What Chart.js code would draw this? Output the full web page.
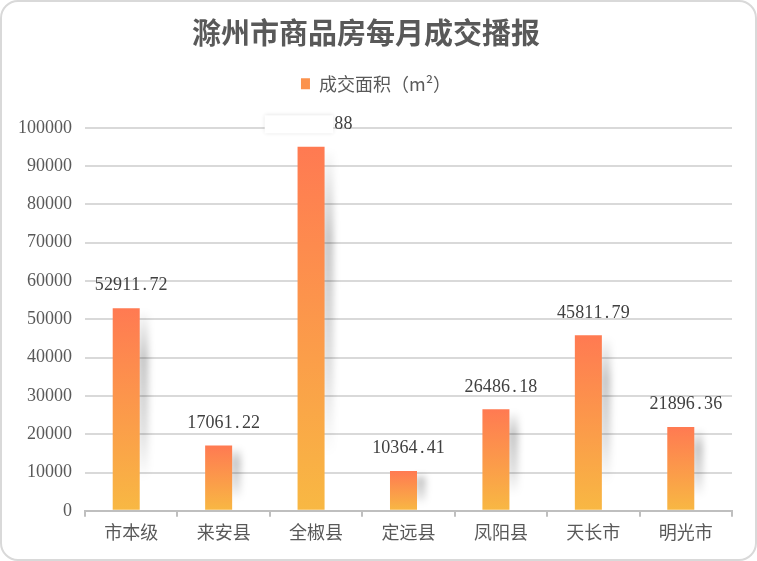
<!DOCTYPE html>
<html><head><meta charset="utf-8">
<script src="https://cdn.jsdelivr.net/npm/chart.js@4"></script>
<style>
html,body{margin:0;padding:0;background:#fff;}
#wrap{position:relative;width:757px;height:561px;}
#frame{position:absolute;left:0;top:0;width:757px;height:561px;box-sizing:border-box;border:2px solid #d9d9d9;border-radius:18px;pointer-events:none;}
canvas{position:absolute;left:0;top:0;}
</style></head><body>
<div id="wrap"><canvas id="c" width="757" height="561"></canvas><div id="frame"></div></div>
<script>
const chartTitle = '滁州市商品房每月成交播报';
const seriesName = '成交面积（m²）';
const categories = ['市本级', '来安县', '全椒县', '定远县', '凤阳县', '天长市', '明光市'];
const areaValues = [52911.72, 17061.22, 95038.88, 10364.41, 26486.18, 45811.79, 21896.36];
const yMin = 0, yMax = 100000, yStep = 10000;
const maskedLabelIndex = 2;

const colorTop = '#FF7A52', colorBottom = '#F8B843', textGray = '#595959';

function barGradient(c) {
  const chart = c.chart, area = chart.chartArea;
  if (!area || c.type !== 'data') return '#FB9A4B';
  const ys = chart.scales.y;
  const top = ys.getPixelForValue(c.parsed.y), bottom = ys.getPixelForValue(0);
  const g = chart.ctx.createLinearGradient(0, top, 0, bottom);
  g.addColorStop(0, colorTop);
  g.addColorStop(1, colorBottom);
  return g;
}

const legendShift = {
  id: 'legendShift',
  afterLayout(chart) {
    if (chart.legend) { chart.legend.left += 10; chart.legend.right += 10; }
  }
};

const shadowPlugin = {
  id: 'barShadow',
  beforeDatasetsDraw(chart) {
    const ctx = chart.ctx;
    chart.getDatasetMeta(0).data.forEach(bar => {
      const p = bar.getProps(['x', 'y', 'base', 'width'], true);
      const right = p.x + p.width / 2, h = p.base - p.y;
      ctx.save();
      ctx.filter = 'blur(3px)';
      const g = ctx.createLinearGradient(0, p.y, 0, p.base);
      g.addColorStop(0, 'rgba(0,0,0,0)');
      g.addColorStop(0.25, 'rgba(0,0,0,0.22)');
      g.addColorStop(0.6, 'rgba(0,0,0,0.12)');
      g.addColorStop(0.85, 'rgba(0,0,0,0)');
      ctx.fillStyle = g;
      ctx.fillRect(right - 2, p.y + 4, 11, h * 0.85);
      ctx.restore();
    });
  }
};

const labelPlugin = {
  id: 'valueLabels',
  afterDatasetsDraw(chart) {
    const ctx = chart.ctx, xs = chart.scales.x;
    const adv = 9.1;
    chart.getDatasetMeta(0).data.forEach((bar, i) => {
      const text = areaValues[i].toFixed(2);
      const cx = xs.getPixelForValue(i);
      const cy = bar.y - 22.5;
      const start = cx - text.length * adv / 2;
      ctx.save();
      ctx.font = '18px "Liberation Serif"';
      ctx.fillStyle = '#404040';
      ctx.textAlign = 'center';
      ctx.textBaseline = 'middle';
      for (let k = 0; k < text.length; k++) ctx.fillText(text[k], start + adv * (k + 0.5), cy);
      if (i === maskedLabelIndex) {
        ctx.shadowColor = 'rgba(0,0,0,0.12)';
        ctx.shadowBlur = 4;
        ctx.fillStyle = '#ffffff';
        ctx.fillRect(start - 15, cy - 9, (text.length - 2) * adv + 14, 18);
      }
      ctx.restore();
    });
  }
};

new Chart(document.getElementById('c'), {
  type: 'bar',
  data: {
    labels: categories,
    datasets: [
      { label: seriesName, data: areaValues, backgroundColor: barGradient, borderWidth: 0 },
      { label: '', data: categories.map(() => null), backgroundColor: 'rgba(0,0,0,0)' }
    ]
  },
  options: {
    responsive: false,
    animation: false,
    categoryPercentage: 0.2165,
    barPercentage: 2.7,
    layout: { padding: { left: 0, right: 25, top: 0, bottom: 12.6 } },
    plugins: {
      tooltip: { enabled: false },
      title: {
        display: true, text: chartTitle, color: textGray,
        font: { family: '"Noto Sans CJK SC"', size: 29, weight: 'bold' },
        padding: { top: 16, bottom: 18 }
      },
      subtitle: {
        display: true, text: ' ', font: { size: 10 }, padding: { top: 6.5, bottom: 6.5 }
      },
      legend: {
        display: true,
        weight: 1800,
        labels: {
          color: textGray, boxWidth: 9, boxHeight: 11, padding: 6,
          font: { family: '"Noto Sans CJK SC"', size: 18 },
          generateLabels: () => [{ text: seriesName, fillStyle: '#FB924C', strokeStyle: '#FB924C', lineWidth: 0, hidden: false, datasetIndex: 0, fontColor: textGray }]
        }
      }
    },
    scales: {
      x: {
        offset: true,
        grid: { offset: true, drawOnChartArea: false, drawTicks: true, tickLength: 6, color: '#bfbfbf', lineWidth: 2 },
        border: { display: true, color: '#bfbfbf', width: 2 },
        ticks: { color: textGray, padding: 5, font: { family: '"Noto Sans CJK SC"', size: 18 } }
      },
      y: {
        min: yMin, max: yMax,
        afterFit: s => { s.width = 85; },
        ticks: { stepSize: yStep, color: textGray, padding: 13, font: { family: '"Liberation Serif"', size: 18 }, callback: v => String(v) },
        grid: { color: '#d9d9d9', lineWidth: 2, drawTicks: false },
        border: { display: false }
      }
    }
  },
  plugins: [legendShift, shadowPlugin, labelPlugin]
});
</script>
</body></html>
